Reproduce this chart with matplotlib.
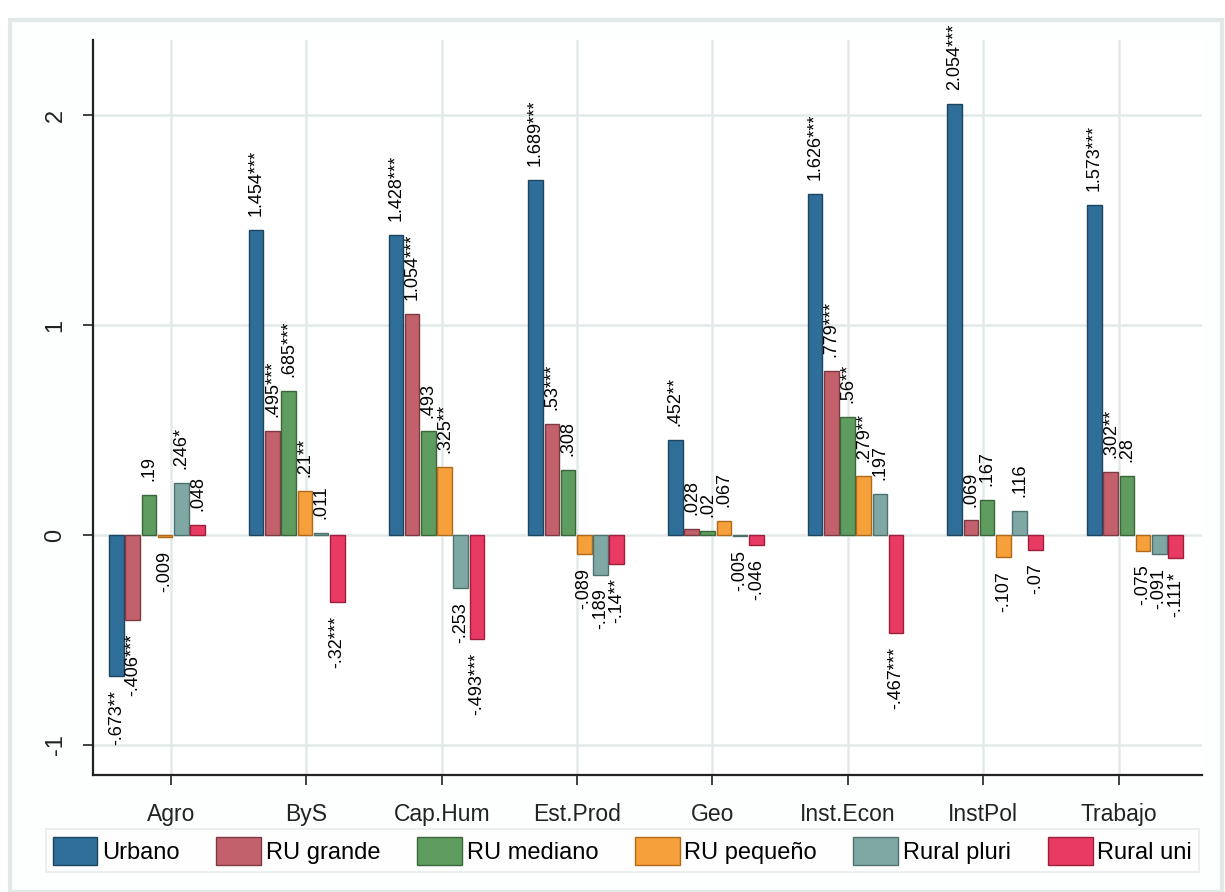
import numpy as np
import matplotlib
matplotlib.use('Agg')
import matplotlib.pyplot as plt
from matplotlib.patches import Rectangle

plt.rcParams['font.family'] = ['Liberation Sans', 'DejaVu Sans']

# Datos del gráfico
categorias = ['Agro', 'ByS', 'Cap.Hum', 'Est.Prod', 'Geo', 'Inst.Econ', 'InstPol', 'Trabajo']
series = ['Urbano', 'RU grande', 'RU mediano', 'RU pequeño', 'Rural pluri', 'Rural uni']

urbano = [-0.673, 1.454, 1.428, 1.689, 0.452, 1.626, 2.054, 1.573]
ru_grande = [-0.406, 0.495, 1.054, 0.53, 0.028, 0.779, 0.069, 0.302]
ru_mediano = [0.19, 0.685, 0.493, 0.308, 0.02, 0.56, 0.167, 0.28]
ru_pequeno = [-0.009, 0.21, 0.325, -0.089, 0.067, 0.279, -0.107, -0.075]
rural_pluri = [0.246, 0.011, -0.253, -0.189, -0.005, 0.197, 0.116, -0.091]
rural_uni = [0.048, -0.32, -0.493, -0.14, -0.046, -0.467, -0.07, -0.111]

# significancia
est_urbano = ['**', '***', '***', '***', '**', '***', '***', '***']
est_ru_grande = ['***', '***', '***', '***', '', '***', '', '**']
est_ru_mediano = ['', '***', '', '', '', '**', '', '']
est_ru_pequeno = ['', '**', '**', '', '', '**', '', '']
est_rural_pluri = ['*', '', '', '', '', '', '', '']
est_rural_uni = ['', '***', '***', '**', '', '***', '', '*']

valores = [urbano, ru_grande, ru_mediano, ru_pequeno, rural_pluri, rural_uni]
estrellas = [est_urbano, est_ru_grande, est_ru_mediano, est_ru_pequeno, est_rural_pluri, est_rural_uni]

colores = ['#2f6e98', '#c2606b', '#5f9c5f', '#f5a03a', '#7fa8a4', '#e83a62']
bordes = ['#1c4560', '#7e3a42', '#3a663a', '#b06a1c', '#4e716d', '#9c1f3c']


def fmt(v):
    s = f"{v:g}"
    return s.replace('0.', '.', 1) if abs(v) < 1 else s


fig = plt.figure(figsize=(12.25, 8.92), dpi=100)
marco = Rectangle((10 / 1225, 0), 1212 / 1225, 1 - 20 / 892,
                  transform=fig.transFigure, facecolor='#fdfefe',
                  edgecolor='#e2e9e9', linewidth=3, zorder=-10)
fig.patches.append(marco)
ax = fig.add_axes([93 / 1225, 1 - 775 / 892, (1202 - 93) / 1225, (775 - 40) / 892])
ax.set_facecolor('white')

x = np.arange(len(categorias))
paso = 0.116
for j, (vals, est) in enumerate(zip(valores, estrellas)):
    pos = x + (j - 2.5) * paso
    ax.bar(pos, vals, width=paso * 0.9, color=colores[j], edgecolor=bordes[j],
           linewidth=1, label=series[j], zorder=3)
    for p, v, s in zip(pos, vals, est):
        if v >= 0:
            ax.annotate(fmt(v) + s, (p, v), xytext=(0, 10), textcoords='offset points',
                        rotation=90, ha='center', va='bottom', fontsize=13, zorder=4)
        else:
            ax.annotate(fmt(v) + s, (p, v), xytext=(0, -10), textcoords='offset points',
                        rotation=90, ha='center', va='top', fontsize=13, zorder=4)

ax.set_xlim(-0.458, 7.48)
ax.set_ylim(-1.143, 2.357)

# las etiquetas de categoria no caen justo en el centro de los grupos (como en Stata)
ax.set_xticks(0.1 + 0.969 * x)
ax.set_xticklabels(categorias, fontsize=16.5)
ax.set_yticks([-1, 0, 1, 2])
ax.set_yticklabels(['-1', '0', '1', '2'], fontsize=17, rotation=90, va='center')

ax.grid(True, color='#e3e9e9', linewidth=1.8, zorder=0)
ax.set_axisbelow(True)
for lado in ['top', 'right']:
    ax.spines[lado].set_visible(False)
for lado in ['left', 'bottom']:
    ax.spines[lado].set_color('#222222')
    ax.spines[lado].set_linewidth(1.6)
ax.tick_params(axis='x', length=7, width=1.2, pad=13, colors='#222222')
ax.tick_params(axis='y', length=7, width=1.2, pad=12, colors='#222222')

leg = fig.legend(loc='center', bbox_to_anchor=(0.508, 0.046), ncol=6, fontsize=17,
                 handlelength=1.9, handleheight=1.5, handletextpad=0.2,
                 columnspacing=1.55, frameon=True, fancybox=False, borderpad=0.3)
leg.get_frame().set_edgecolor('#e2e8e8')
leg.get_frame().set_linewidth(1.2)

fig.savefig('out.png', dpi=100)
